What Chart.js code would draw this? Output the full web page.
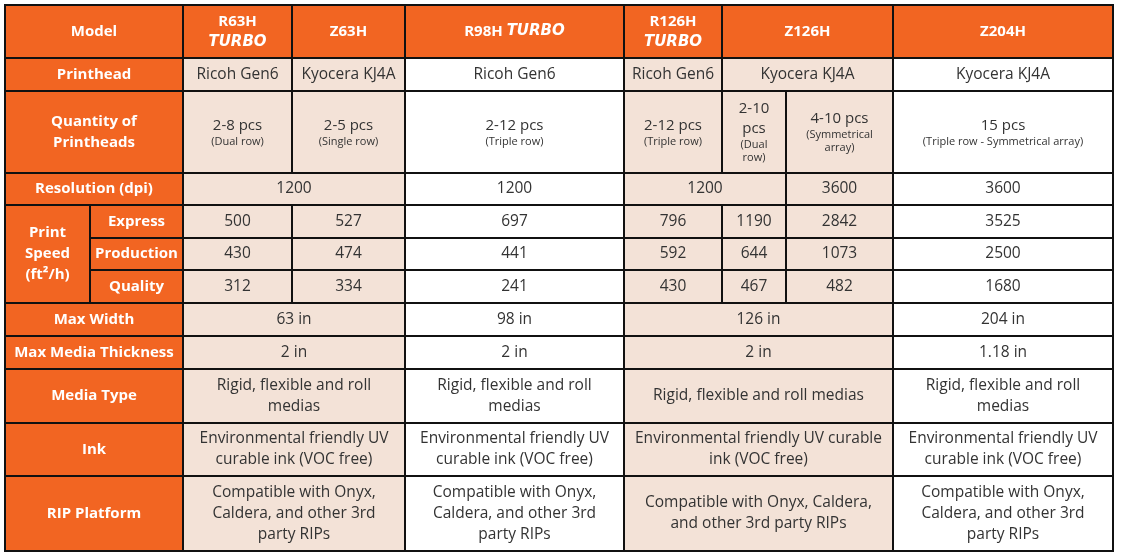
<!DOCTYPE html>
<html><head><meta charset="utf-8">
<script src="https://cdn.jsdelivr.net/npm/chart.js@4"></script>
<style>html,body{margin:0;padding:0;background:#fff}</style>
</head><body>
<canvas id="tbl" width="1121" height="558"></canvas>
<script>
// table content
const models = ['R63H|TURBO', 'Z63H', 'R98H TURBO', 'R126H|TURBO', 'Z126H', 'Z204H'];
const rowLabels = ['Printhead', 'Quantity of\nPrintheads', 'Resolution (dpi)', 'Max Width', 'Max Media Thickness', 'Media Type', 'Ink', 'RIP Platform'];
const speedLabels = ['Express', 'Production', 'Quality'];
const printheads = ['Ricoh Gen6', 'Kyocera KJ4A', 'Ricoh Gen6', 'Ricoh Gen6', 'Kyocera KJ4A', 'Kyocera KJ4A'];
const quantities = [['2-8 pcs', '(Dual row)'], ['2-5 pcs', '(Single row)'], ['2-12 pcs', '(Triple row)'], ['2-12 pcs', '(Triple row)'],
  ['2-10\npcs', '(Dual\nrow)'], ['4-10 pcs', '(Symmetrical\narray)'], ['15 pcs', '(Triple row - Symmetrical array)']];
const resolution = ['1200', '1200', '1200', '3600', '3600'];
const speedExpress = [500, 527, 697, 796, 1190, 2842, 3525];
const speedProduction = [430, 474, 441, 592, 644, 1073, 2500];
const speedQuality = [312, 334, 241, 430, 467, 482, 1680];
const maxWidth = ['63 in', '98 in', '126 in', '204 in'];
const thickness = ['2 in', '2 in', '2 in', '1.18 in'];
const mediaType = ['Rigid, flexible and roll\nmedias', 'Rigid, flexible and roll\nmedias', 'Rigid, flexible and roll medias', 'Rigid, flexible and roll\nmedias'];
const ink = ['Environmental friendly UV\ncurable ink (VOC free)', 'Environmental friendly UV\ncurable ink (VOC free)', 'Environmental friendly UV curable\nink (VOC free)', 'Environmental friendly UV\ncurable ink (VOC free)'];
const rip = ['Compatible with Onyx,\nCaldera, and other 3rd\nparty RIPs', 'Compatible with Onyx,\nCaldera, and other 3rd\nparty RIPs', 'Compatible with Onyx, Caldera,\nand other 3rd party RIPs', 'Compatible with Onyx,\nCaldera, and other 3rd\nparty RIPs'];

// grid layout (in scale units)
const colEdges = [5, 90, 183, 292, 405, 624, 722, 786, 893, 1113];
const rowEdges = [5, 58, 91, 173, 205, 238, 270, 303, 336, 369, 423, 476, 551];
const ORANGE = '#f26522', PEACH = '#f3e2d7', INK = '#333';
const peachCols = [2, 3, 5, 6, 7];

// build cells: [c0, c1, r0, r1, kind, text]
const cells = [];
const hdrSpans = [[2,3],[3,4],[4,5],[5,6],[6,8],[8,9]];
cells.push([0, 2, 0, 1, 'head', 'Model']);
models.forEach((m, i) => cells.push([hdrSpans[i][0], hdrSpans[i][1], 0, 1, 'head', m]));
const labelRows = [[1,2],[2,3],[3,4],[7,8],[8,9],[9,10],[10,11],[11,12]];
rowLabels.forEach((l, i) => cells.push([0, 2, labelRows[i][0], labelRows[i][1], 'label', l]));
cells.push([0, 1, 4, 7, 'label', 'Print\nSpeed\n(ft²/h)']);
speedLabels.forEach((l, i) => cells.push([1, 2, 4 + i, 5 + i, 'label', l]));
printheads.forEach((p, i) => cells.push([hdrSpans[i][0], hdrSpans[i][1], 1, 2, 'val', p]));
const sevenCols = [[2,3],[3,4],[4,5],[5,6],[6,7],[7,8],[8,9]];
quantities.forEach((q, i) => cells.push([sevenCols[i][0], sevenCols[i][1], 2, 3, 'qty', q]));
const resSpans = [[2,4],[4,5],[5,7],[7,8],[8,9]];
resolution.forEach((v, i) => cells.push([resSpans[i][0], resSpans[i][1], 3, 4, 'val', v]));
[speedExpress, speedProduction, speedQuality].forEach((arr, r) =>
  arr.forEach((v, i) => cells.push([sevenCols[i][0], sevenCols[i][1], 4 + r, 5 + r, 'val', String(v)])));
const fourSpans = [[2,4],[4,5],[5,8],[8,9]];
[maxWidth, thickness, mediaType, ink, rip].forEach((arr, r) =>
  arr.forEach((v, i) => cells.push([fourSpans[i][0], fourSpans[i][1], 7 + r, 8 + r, 'val', v])));

const tablePlugin = {
  id: 'table',
  afterDraw(chart) {
    const ctx = chart.ctx, xs = chart.scales.x, ys = chart.scales.y;
    const X = c => xs.getPixelForValue(colEdges[c]);
    const Y = r => ys.getPixelForValue(rowEdges[r]);
    ctx.save();
    ctx.textAlign = 'center';
    ctx.textBaseline = 'middle';
    cells.forEach(([c0, c1, r0, r1, kind, text]) => {
      const x0 = X(c0), x1 = X(c1), y0 = Y(r0), y1 = Y(r1);
      const cx = (x0 + x1) / 2, cy = (y0 + y1) / 2;
      ctx.fillStyle = (kind === 'head' || kind === 'label') ? ORANGE : (peachCols.includes(c0) ? PEACH : '#fff');
      ctx.fillRect(x0, y0, x1 - x0, y1 - y0);
      if (kind === 'head') {
        ctx.fillStyle = '#fff';
        const parts = text.split('|');
        if (parts.length === 2) {
          ctx.font = 'bold 15px "Open Sans"';
          ctx.fillText(parts[0], cx, cy - 10);
          ctx.font = 'italic 900 15px "DejaVu Sans"';
          ctx.fillText(parts[1], cx, cy + 11);
        } else if (text.endsWith(' TURBO')) {
          const a = text.replace(' TURBO', ' ');
          ctx.font = 'bold 15px "Open Sans"';
          const wa = ctx.measureText(a).width;
          ctx.font = 'italic 900 15px "DejaVu Sans"';
          const wb = ctx.measureText('TURBO').width;
          const sx = cx - (wa + wb) / 2;
          ctx.textAlign = 'left';
          ctx.font = 'bold 15px "Open Sans"';
          ctx.fillText(a, sx, cy);
          ctx.font = 'italic 900 15px "DejaVu Sans"';
          ctx.fillText('TURBO', sx + wa, cy);
          ctx.textAlign = 'center';
        } else {
          ctx.font = 'bold 15px "Open Sans"';
          ctx.fillText(text, cx, cy);
        }
      } else if (kind === 'label') {
        ctx.fillStyle = '#fff';
        ctx.font = 'bold 15px "Open Sans"';
        const lines = text.split('\n');
        lines.forEach((l, k) => ctx.fillText(l, cx, cy + (k - (lines.length - 1) / 2) * 21));
      } else if (kind === 'qty') {
        ctx.fillStyle = INK;
        const main = text[0].split('\n'), sub = text[1].split('\n');
        const h = main.length * 20 + sub.length * 13;
        let y = cy - h / 2;
        ctx.font = '15px "Open Sans"';
        main.forEach(l => { ctx.fillText(l, cx, y + 10); y += 20; });
        ctx.font = '11px "Open Sans"';
        sub.forEach(l => { ctx.fillText(l, cx, y + 6); y += 13; });
      } else {
        ctx.fillStyle = INK;
        ctx.font = '15.5px "Open Sans"';
        const lines = text.split('\n');
        lines.forEach((l, k) => ctx.fillText(l, cx, cy + (k - (lines.length - 1) / 2) * 21));
      }
      ctx.strokeStyle = '#111';
      ctx.lineWidth = 2;
      ctx.strokeRect(x0, y0, x1 - x0, y1 - y0);
    });
    ctx.restore();
  }
};

new Chart(document.getElementById('tbl'), {
  type: 'scatter',
  data: { datasets: [{ data: [] }] },
  options: {
    responsive: false,
    animation: false,
    devicePixelRatio: 1,
    layout: { padding: 0 },
    plugins: { legend: { display: false }, tooltip: { enabled: false } },
    scales: {
      x: { type: 'linear', min: 0, max: 1121, display: false },
      y: { type: 'linear', min: 0, max: 558, reverse: true, display: false }
    }
  },
  plugins: [tablePlugin]
});
</script>
</body></html>
